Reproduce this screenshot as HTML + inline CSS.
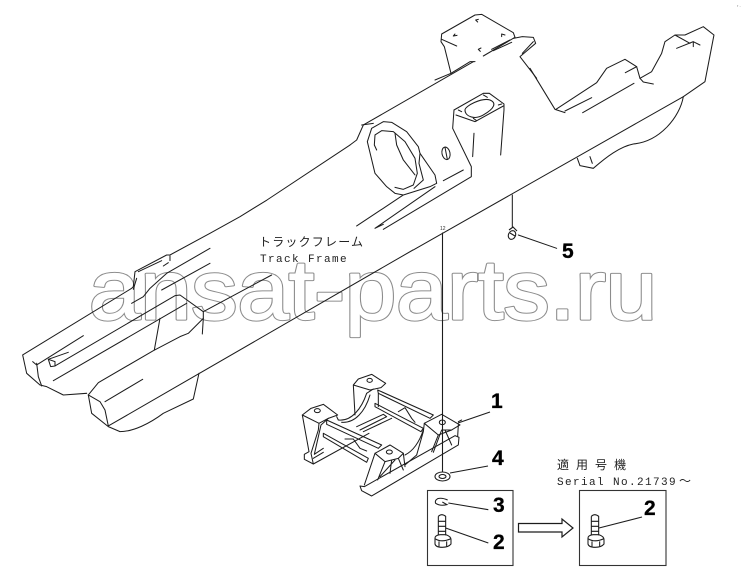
<!DOCTYPE html>
<html><head><meta charset="utf-8"><style>
html,body{margin:0;padding:0;background:#fff}
svg{display:block}
.l{fill:none;stroke:#1c1c1c;stroke-width:3.1;stroke-linejoin:round;stroke-linecap:round}
.n{font:bold 21px "Liberation Sans",sans-serif;fill:#000;stroke:#000;stroke-width:.3}
.m{font:11px "Liberation Mono",monospace;fill:#222;letter-spacing:1.4px}
.j{font:12px "Liberation Sans","Noto Sans CJK JP",sans-serif;fill:#222}
</style></head><body>
<svg width="749" height="588" viewBox="0 0 749 588" xmlns="http://www.w3.org/2000/svg">
<text x="89" y="319" font-family="Liberation Sans" font-size="84" fill="#8c8c8c" stroke="#8c8c8c" stroke-width="3.2" stroke-linejoin="round" textLength="568" lengthAdjust="spacingAndGlyphs">ansat-parts.ru</text>
<text x="89" y="319" font-family="Liberation Sans" font-size="84" fill="#fff" stroke="#fff" stroke-width="1.2" stroke-linejoin="round" textLength="568" lengthAdjust="spacingAndGlyphs">ansat-parts.ru</text>

<!-- top bracket -->
<g class="l" transform="translate(435,10) scale(.3333)">
<path d="M0,210 L48,190 L105,155 L120,155"/>
<path d="M48,190 L28,110 L18,95 L20,72 L120,15 L140,13 L235,68 L240,82 L145,138"/>
<path d="M20,88 L65,108 M170,118 L225,90 M175,122 L230,97"/>
<path d="M235,85 L262,80 L295,82 L302,100 L255,140 L305,205 M262,130 L295,95"/>
<path d="M55,78 L60,72 M55,78 L66,76 M122,30 L130,28 M122,30 L128,36 M200,72 L210,75 M200,72 L200,80 M130,118 L138,114 M130,118 L136,124"/>
</g>

<g class="l" transform="translate(350,0) scale(.3333)">
<path d="M370,185 L40,375 L20,420 L0,435"/>
<path d="M540,205 L615,328 L645,338"/>
<path d="M618,328 L740,248 L770,205 L825,178 L860,200 L870,235 L880,246 L910,252"/>
<path d="M645,333 L725,293 M698,338 L852,250 M826,218 L860,200"/>
<path d="M870,235 L905,215 L935,160 L945,125 L975,105 L1005,105 L1060,80 L1092,105 L1065,245 L1000,290 L190,750"/>
<path d="M975,105 L1020,130 M980,145 L1030,125 L1050,135 M1030,125 L1030,140"/>
<path d="M1000,290 C990,350 930,425 850,432 C810,440 770,470 730,505 L690,497 L682,475 M720,470 L727,490"/>
<path d="M487,585 L487,680"/>
<path d="M505,705 L620,745"/>
<!-- tower -->
<path d="M312,330 L400,280 L418,280 L462,312 L462,330 L452,465"/>
<path d="M312,330 L308,385 L364,500 L364,530 L100,688 M372,400 L368,470 M318,345 L375,365 L460,318"/>
<path d="M345,330 C345,318 395,292 420,300 C440,308 435,325 400,345 C375,360 345,350 345,330 Z"/>
<path d="M325,330 L335,335 M400,285 L412,292 M370,355 L380,362 M445,315 L455,312"/>
<path d="M280,542 L340,510"/>
</g>

<!-- hub -->
<g class="l" transform="translate(340,90) scale(.3333)">
<path d="M65,105 L100,100"/>
<path d="M95,115 L130,95 L155,97 L200,125 L235,170 L240,190 L285,255 L290,280 L270,290 L190,315 L165,310 L140,290 L105,250 L82,155 Z"/>
<path d="M105,135 L125,122 L160,125 L195,155 L225,205 L232,250 L220,285 L190,298 L165,292 M105,135 L103,165 L110,180"/>
<path d="M165,130 L170,165 L190,210 L225,255"/>
<path d="M240,190 L237,220 L250,270 L222,295"/>
<path d="M190,315 L50,408 M285,290 L105,415 L130,403"/>
<ellipse cx="318" cy="190" rx="12" ry="19" transform="rotate(-12 318 190)"/>
<path d="M315,172 L322,208"/>
</g>

<!-- left end -->
<g class="l" transform="translate(20,230) scale(.3333)">
<path d="M990,-255 L741,-90 L660,-40 L570,10 L450,75 L440,75 L345,125 L340,170 L335,175 L8,375 L20,430 L60,465 L80,470 L130,495 L200,490"/>
<path d="M355,125 L425,92 M430,108 L445,98 M450,78 L450,92 M340,178 L350,145"/>
<path d="M335,220 L370,200 L390,175 L440,130 L570,55 M425,180 L570,100"/>
<path d="M38,395 L50,405 L190,317 M50,400 L55,440 L65,468"/>
<path d="M85,388 L92,410 L105,408 L465,197 L480,195 L550,245 L550,265 L505,310 L480,320 L400,362 L235,458 L205,495"/>
<path d="M85,388 L145,367 M85,388 L105,395 L105,408"/>
<path d="M100,452 L500,220 M420,265 L403,360 M550,265 L547,312 M550,245 L755,135"/>
</g>
<g class="l" transform="translate(0,200) scale(.3333)">
<path d="M265,585 L275,640 L325,680 L360,695 C400,695 450,670 490,640 L580,597 L597,520"/>
<path d="M265,585 L300,605 L315,630 L325,678 L1239,150 M315,605 L428,538"/>
</g>

<path class="l" style="stroke-width:1.1" d="M442.500,233 L442.500,472"/>
<text x="440" y="230" font-size="5" font-family="Liberation Sans" fill="#333">12</text>

<!-- bolt 5 -->
<g fill="none" stroke="#1c1c1c" stroke-width="1.1">
<ellipse cx="512" cy="235" rx="3.500" ry="4.500" transform="rotate(25 512 235)"/>
<path d="M509,230 L513,227 L517,231 M510,233 L515,236"/>
</g>

<!-- mount -->
<g class="l" transform="translate(295,365) scale(.3333)">
<path d="M22,150 L48,130 L85,118 L128,150 L100,160 L72,175 Z"/>
<path d="M22,150 L42,260 L28,268 L28,283 L55,297 L222,205"/>
<path d="M72,175 L70,195 L48,265 L55,297 M100,160 L78,180 L58,268 L85,250 M55,280 L85,262"/>
<ellipse cx="67" cy="137" rx="9" ry="6"/>
<path d="M95,165 L260,240 L250,250 L95,178 Z M125,155 L130,165"/>
<path d="M85,205 L220,280 L215,292 L85,215 Z"/>
<path d="M150,222 L175,222 L195,250 L215,258"/>
<path d="M130,165 C170,170 200,130 215,85 L235,72 M140,172 C180,175 210,140 225,90"/>
<path d="M175,60 L190,42 L230,28 L272,55 L258,68 L225,75 Z M175,60 L180,150"/>
<ellipse cx="224" cy="46" rx="8" ry="6"/>
<path d="M248,75 L415,150 L405,160 L250,85 Z M250,85 L250,125"/>
<path d="M240,115 L385,190 L378,200 L240,125 Z"/>
<path d="M310,140 L330,128 L350,160 L360,172"/>
<path d="M185,185 L265,148 L275,155 L195,195 M205,200 L290,160"/>
<path d="M388,175 L440,148 L478,170 L495,180 L470,195 L430,210 Z"/>
<ellipse cx="442" cy="172" rx="9" ry="7"/>
<path d="M388,175 L385,200 L365,270 M430,210 L410,260 M470,195 L440,195 L415,262 M450,195 L470,240 M490,180 L488,215 M385,195 C370,240 350,260 330,270"/>
<path d="M195,363 L200,377 L230,393 L490,240 L492,217 L480,212 M195,363 L208,365 L480,212"/>
<path d="M240,265 L285,240 L325,265 L310,280 L270,290 Z"/>
<ellipse cx="283" cy="261" rx="9" ry="6"/>
<path d="M240,265 L208,360 M270,290 L248,345 M290,285 L285,325 M310,280 L325,315 M300,285 L255,335 M325,265 L330,305 M365,270 L330,300"/>
<path d="M490,170 L500,165"/>
</g>

<!-- leaders / boxes -->
<g fill="none" stroke="#1c1c1c" stroke-width="1.1">
<path d="M458,423 L490,412"/>
<path d="M450,473 L488,466"/>
<ellipse cx="442.500" cy="476.500" rx="7.500" ry="4.500"/>
<ellipse cx="442.500" cy="476.500" rx="3.500" ry="2"/>
<rect x="427.500" y="490.500" width="85.500" height="75" stroke="#333"/>
<g transform="translate(425,488) scale(.3333)" stroke-width="3.2">
<path d="M70,45 L190,65 M62,120 L190,165"/>
<path d="M68,36 Q50,28 38,32 Q28,38 32,46 Q45,55 66,50 L52,42"/>
<path d="M40,85 Q50,75 62,85 L62,142 M40,85 L40,142 M40,100 L62,100 M40,115 L62,115 M40,130 L62,130"/>
<path d="M30,150 Q30,142 45,140 L62,140 Q78,145 78,155 L78,168 Q70,178 52,178 Q32,178 30,168 Z M30,152 Q50,165 78,152 M42,160 L42,178 M65,160 L65,176"/>
</g>
<path d="M518.500,523.500 L562,523.500 L562,519 L573,528 L562,537 L562,532 L518.500,532 Z" stroke-width="1.2"/>
<rect x="579.500" y="490.500" width="86.500" height="75" stroke="#333"/>
<g transform="translate(578,488) scale(.3333)" stroke-width="3.2">
<path d="M40,85 Q50,75 62,85 L62,142 M40,85 L40,142 M40,100 L62,100 M40,115 L62,115 M40,130 L62,130"/>
<path d="M30,150 Q30,142 45,140 L62,140 Q78,145 78,155 L78,168 Q70,178 52,178 Q32,178 30,168 Z M30,152 Q50,165 78,152 M42,160 L42,178 M65,160 L65,176"/>
</g>
<path d="M599,528 L642,517"/>
</g>

<text class="n" x="491" y="408">1</text>
<text class="n" x="492" y="465">4</text>
<text class="n" x="493" y="512">3</text>
<text class="n" x="493" y="549">2</text>
<text class="n" x="644" y="515">2</text>
<text class="n" x="562" y="258">5</text>

<text class="j" x="259" y="246" letter-spacing="1.2">トラックフレーム</text>
<text class="m" x="260" y="262">Track Frame</text>
<text class="j" x="557" y="469" letter-spacing="7">適用号機</text>
<text class="m" x="557" y="485">Serial No.21739</text>
<text class="j" x="679" y="485" font-size="13">～</text>
<text x="737" y="7" font-size="4" font-family="Liberation Sans" fill="#888">r -</text>
</svg>
</body></html>
